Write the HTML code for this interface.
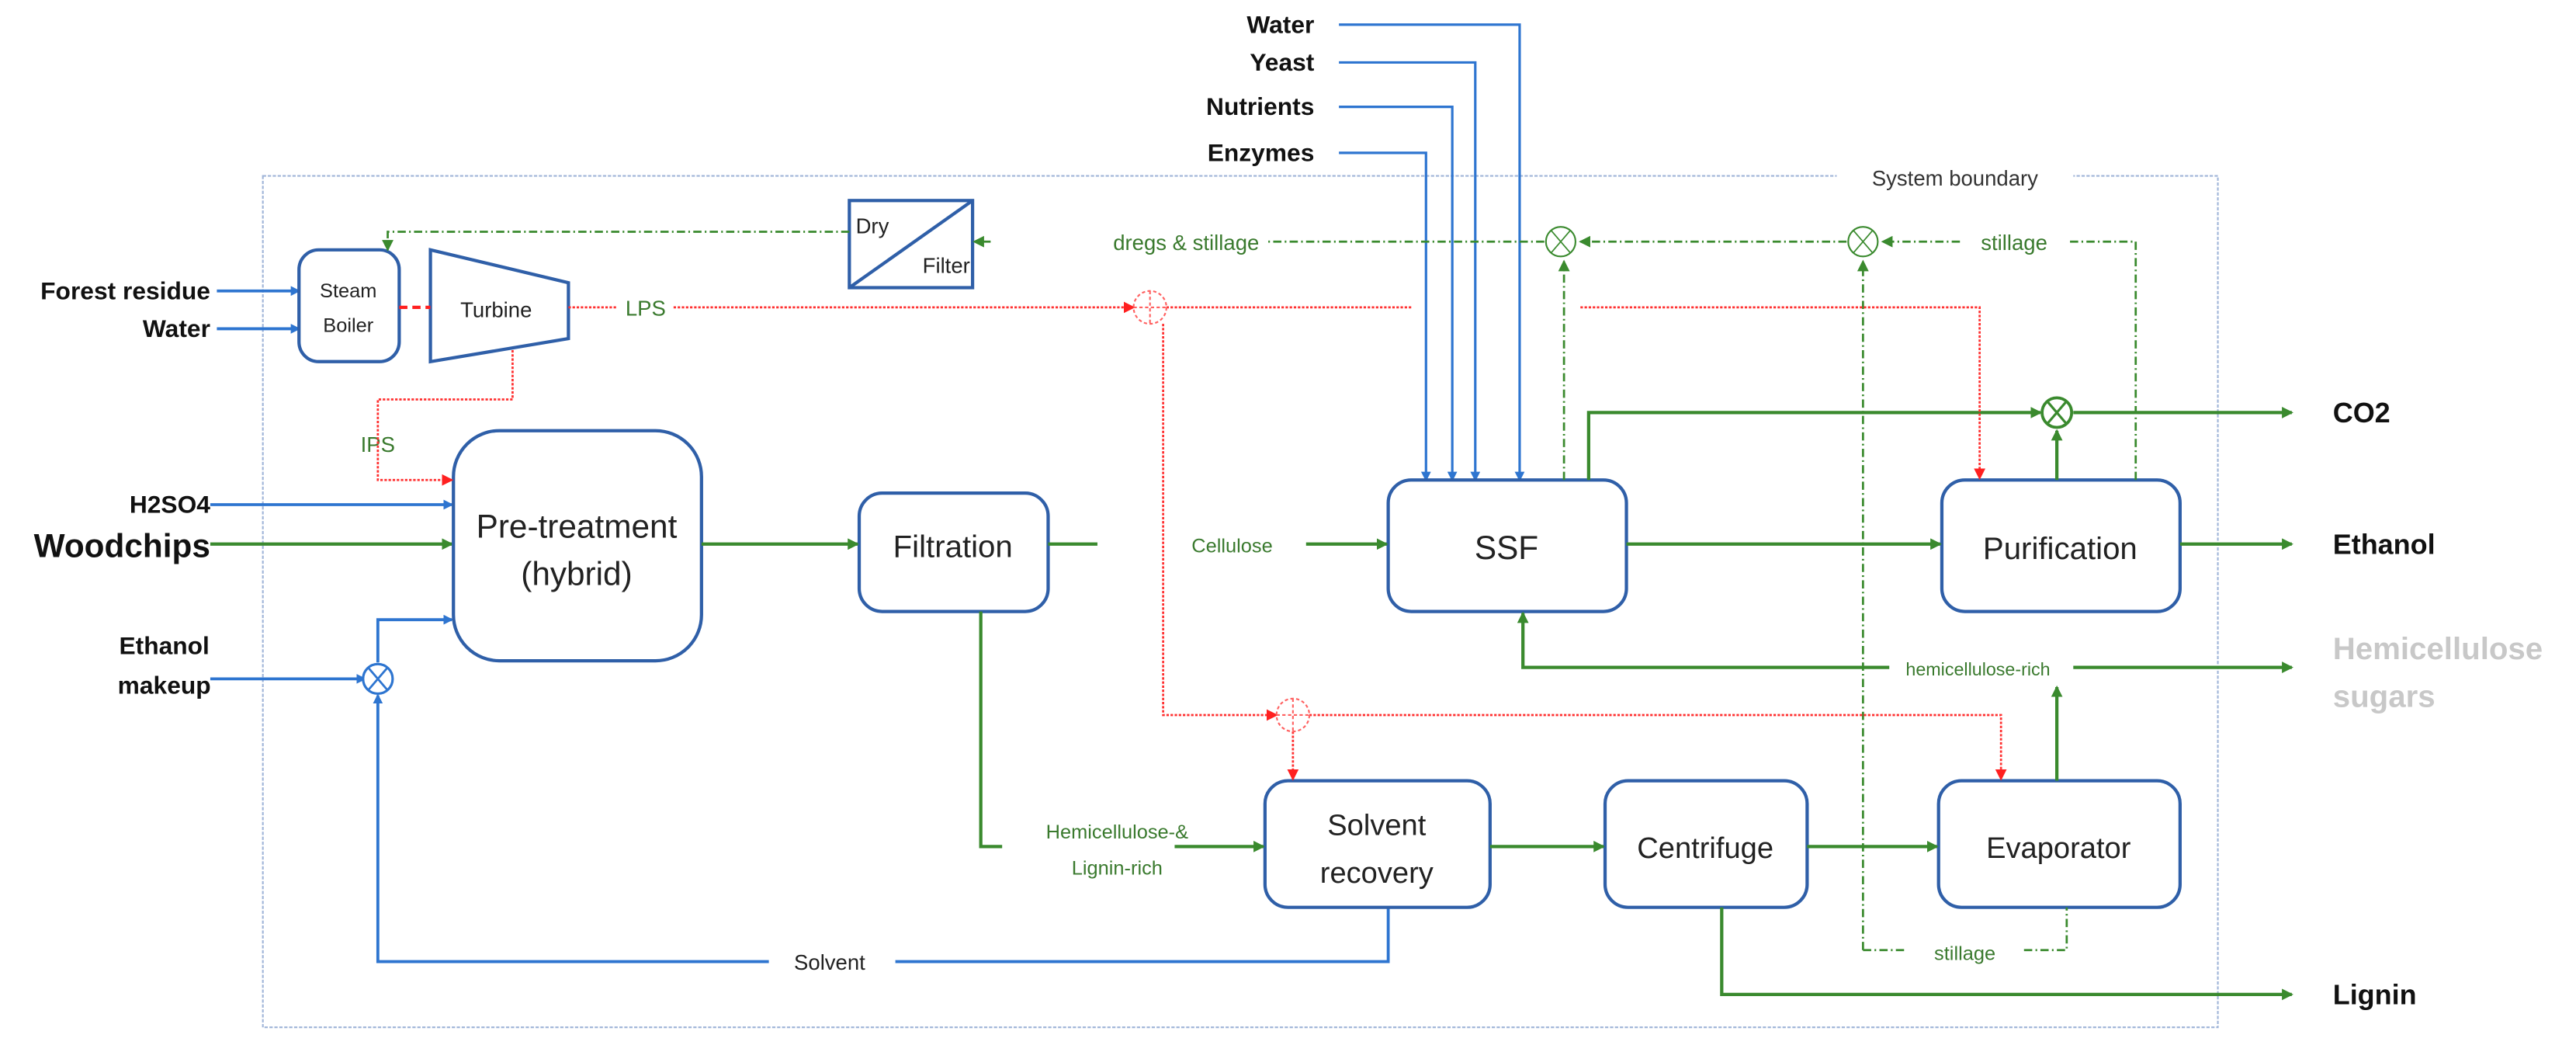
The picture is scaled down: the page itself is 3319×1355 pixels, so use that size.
<!DOCTYPE html>
<html><head><meta charset="utf-8"><style>
html,body{margin:0;padding:0;background:#fff;}
svg{display:block;}
text{font-family:"Liberation Sans",sans-serif;}
</style></head><body>
<svg width="3319" height="1355" viewBox="0 0 1568 640" preserveAspectRatio="none" xmlns="http://www.w3.org/2000/svg">
<defs>
<marker id="ab" markerWidth="6" markerHeight="6" refX="5" refY="3" orient="auto" markerUnits="userSpaceOnUse"><path d="M0,0L6,3L0,6z" fill="#2e75d0"/></marker>
<marker id="ag" markerWidth="7" markerHeight="7" refX="6" refY="3.5" orient="auto" markerUnits="userSpaceOnUse"><path d="M0,0L7,3.5L0,7z" fill="#3a8a2e"/></marker>
<marker id="ar" markerWidth="7" markerHeight="7" refX="6" refY="3.5" orient="auto" markerUnits="userSpaceOnUse"><path d="M0,0L7,3.5L0,7z" fill="#ff2020"/></marker>
</defs>
<rect x="160" y="107" width="1190" height="518" fill="none" stroke="#9fb4d8" stroke-width="1" stroke-dasharray="2,1"/>
<rect x="1118" y="96" width="144" height="26" fill="#fff"/>
<text x="1190" y="113" font-size="13" text-anchor="middle" fill="#333">System boundary</text>

<g font-size="15" font-weight="bold" text-anchor="end" fill="#111">
<text x="800" y="20">Water</text><text x="800" y="43">Yeast</text><text x="800" y="70">Nutrients</text><text x="800" y="98">Enzymes</text>
</g>
<g fill="none" stroke="#2e75d0" stroke-width="1.5" marker-end="url(#ab)">
<path d="M815,15H925V292"/><path d="M815,38H898V292"/><path d="M815,65H884V292"/><path d="M815,93H868V292"/>
</g>

<g font-size="15" font-weight="bold" text-anchor="end" fill="#111">
<text x="128" y="182">Forest residue</text><text x="128" y="205">Water</text>
<text x="128" y="312">H2SO4</text><text x="128" y="339" font-size="20">Woodchips</text>
<text x="100" y="398" text-anchor="middle">Ethanol</text><text x="100" y="422" text-anchor="middle">makeup</text>
</g>
<g fill="none" stroke="#2e75d0" stroke-width="1.8">
<path d="M132,177H182" marker-end="url(#ab)"/><path d="M132,200H182" marker-end="url(#ab)"/><path d="M128,307H275" marker-end="url(#ab)"/><path d="M128,413H222" marker-end="url(#ab)"/>
<path d="M230,403V377H275" marker-end="url(#ab)"/><path d="M845,552V585H545"/><path d="M468,585H230V423" marker-end="url(#ab)"/>
</g>
<path d="M128,331H275" stroke="#3a8a2e" stroke-width="2" fill="none" marker-end="url(#ag)"/>
<circle cx="230" cy="413" r="9" fill="#fff" stroke="#2e75d0" stroke-width="1.5"/>
<path d="M224,406L236,420M236,406L224,420" stroke="#2e75d0" stroke-width="1.3"/>
<text x="505" y="590" font-size="13" text-anchor="middle" fill="#222">Solvent</text>

<g fill="#fff" stroke="#2f5fa8" stroke-width="2">
<rect x="182" y="152" width="61" height="68" rx="12"/>
<path d="M262,152L346,172V206L262,220Z"/>
<rect x="517" y="122" width="75" height="53"/>
<rect x="276" y="262" width="151" height="140" rx="28"/>
<rect x="523" y="300" width="115" height="72" rx="14"/>
<rect x="845" y="292" width="145" height="80" rx="14"/>
<rect x="1182" y="292" width="145" height="80" rx="14"/>
<rect x="770" y="475" width="137" height="77" rx="14"/>
<rect x="977" y="475" width="123" height="77" rx="14"/>
<rect x="1180" y="475" width="147" height="77" rx="14"/>
</g>
<path d="M517,175L592,122" stroke="#2f5fa8" stroke-width="2"/>
<g fill="#222" text-anchor="middle">
<text x="212" y="181" font-size="12">Steam</text><text x="212" y="202" font-size="12">Boiler</text>
<text x="302" y="193" font-size="13">Turbine</text>
<text x="531" y="142" font-size="13">Dry</text><text x="576" y="166" font-size="13">Filter</text>
<text x="351" y="327" font-size="20">Pre-treatment</text><text x="351" y="356" font-size="20">(hybrid)</text>
<text x="580" y="339" font-size="19">Filtration</text>
<text x="917" y="340" font-size="20">SSF</text>
<text x="1254" y="340" font-size="19">Purification</text>
<text x="838" y="508" font-size="18">Solvent</text><text x="838" y="537" font-size="18">recovery</text>
<text x="1038" y="522" font-size="18">Centrifuge</text>
<text x="1253" y="522" font-size="18">Evaporator</text>
</g>

<g fill="none" stroke="#3a8a2e" stroke-width="2">
<path d="M427,331H522" marker-end="url(#ag)"/><path d="M638,331H668"/><path d="M795,331H844" marker-end="url(#ag)"/>
<path d="M990,331H1181" marker-end="url(#ag)"/><path d="M1327,331H1395" marker-end="url(#ag)"/>
<path d="M967,292V251H1242" marker-end="url(#ag)"/><path d="M1262,251H1395" marker-end="url(#ag)"/>
<path d="M1252,292V262" marker-end="url(#ag)"/>
<path d="M597,372V515H610"/><path d="M715,515H769" marker-end="url(#ag)"/>
<path d="M907,515H976" marker-end="url(#ag)"/><path d="M1100,515H1179" marker-end="url(#ag)"/>
<path d="M1048,552V605H1395" marker-end="url(#ag)"/>
<path d="M1252,475V418" marker-end="url(#ag)"/>
<path d="M1150,406H927V373" marker-end="url(#ag)"/><path d="M1262,406H1395" marker-end="url(#ag)"/>
</g>
<circle cx="1252" cy="251" r="9" fill="#fff" stroke="#3a8a2e" stroke-width="1.8"/>
<path d="M1246,244L1258,258M1258,244L1246,258" stroke="#3a8a2e" stroke-width="1.5"/>
<g font-size="12" fill="#3a7a2e" text-anchor="middle">
<text x="750" y="336">Cellulose</text>
<text x="680" y="510">Hemicellulose-&amp;</text><text x="680" y="532">Lignin-rich</text>
<text x="1204" y="411" font-size="11">hemicellulose-rich</text>
<text x="722" y="152" font-size="13">dregs &amp; stillage</text>
<text x="1226" y="152" font-size="13">stillage</text>
<text x="1196" y="584" font-size="12">stillage</text>
<text x="393" y="192" font-size="13">LPS</text>
<text x="230" y="275" font-size="13">IPS</text>
</g>
<g font-size="17" font-weight="bold" fill="#111">
<text x="1420" y="257">CO2</text><text x="1420" y="337">Ethanol</text><text x="1420" y="611">Lignin</text>
</g>
<text x="1420" y="401" font-size="19" font-weight="bold" fill="#c8c8c8">Hemicellulose</text>
<text x="1420" y="430" font-size="19" font-weight="bold" fill="#c8c8c8">sugars</text>

<g fill="none" stroke="#3a8a2e" stroke-width="1.3" stroke-dasharray="5,2,1,2">
<path d="M517,141H236V152" marker-end="url(#ag)"/>
<path d="M603,147H593" marker-end="url(#ag)"/>
<path d="M940,147H770"/>
<path d="M1124,147H962" marker-end="url(#ag)"/>
<path d="M1300,292V147H1260"/><path d="M1193,147H1146" marker-end="url(#ag)"/>
<path d="M952,292V159" marker-end="url(#ag)"/>
<path d="M1134,578V159" marker-end="url(#ag)"/>
<path d="M1134,578H1160"/><path d="M1232,578H1258V552"/>
</g>
<g fill="#fff" stroke="#3a8a2e" stroke-width="1">
<circle cx="950" cy="147" r="9"/><circle cx="1134" cy="147" r="9"/>
</g>
<path d="M944,140L956,154M956,140L944,154M1128,140L1140,154M1140,140L1128,154" stroke="#3a8a2e" stroke-width="0.8"/>

<g fill="none" stroke="#ff3030" stroke-width="1.3" stroke-dasharray="1.5,1">
<path d="M346,187H375"/><path d="M410,187H690" marker-end="url(#ar)"/>
<path d="M710,187H860"/><path d="M962,187H1205V291" marker-end="url(#ar)"/>
<path d="M312,213V243H230V292H275" marker-end="url(#ar)"/>
<path d="M708,197V435H777" marker-end="url(#ar)"/>
<path d="M787,445V474" marker-end="url(#ar)"/>
<path d="M797,435H1218V474" marker-end="url(#ar)"/>
</g>
<path d="M243,187H262" stroke="#ff2020" stroke-width="2" stroke-dasharray="5,3"/>
<g fill="none" stroke="#ff6060" stroke-width="1" stroke-dasharray="2,1.5">
<circle cx="700" cy="187" r="10"/><circle cx="787" cy="435" r="10"/>
<path d="M700,177V197M690,187H710M787,425V445M777,435H797"/>
</g>
</svg>
</body></html>
